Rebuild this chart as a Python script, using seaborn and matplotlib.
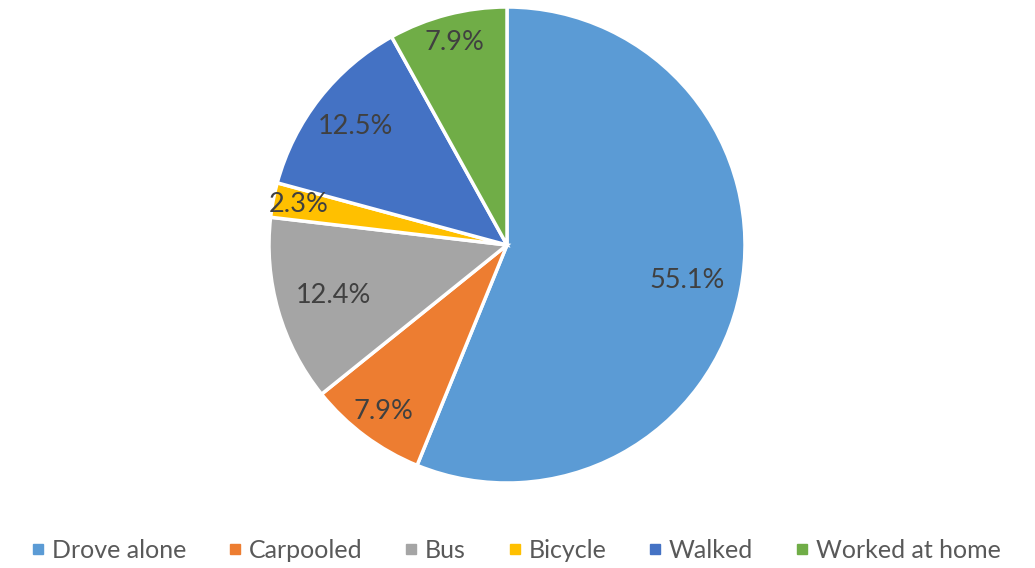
import matplotlib
matplotlib.use("Agg")
import matplotlib.pyplot as plt
import seaborn as sns
import numpy as np
from matplotlib.lines import Line2D

# data
modes = ["Drove alone", "Carpooled", "Bus", "Bicycle", "Walked", "Worked at home"]
shares = [55.1, 7.9, 12.4, 2.3, 12.5, 7.9]
pct_labels = ["55.1%", "7.9%", "12.4%", "2.3%", "12.5%", "7.9%"]
colors = ["#5B9BD5", "#ED7D31", "#A5A5A5", "#FFC000", "#4472C4", "#70AD47"]
label_dist = [0.77, 0.87, 0.76, 0.89, 0.81, 0.88]

sns.set_style("white")
plt.rcParams['font.family'] = ['Lato', 'DejaVu Sans']

fig = plt.figure(figsize=(10.35, 5.68), dpi=100)
# pie centred at ~(507, 245) px with radius ~238 px
cx, cy, r = 507, 245, 238
ax = fig.add_axes([(cx - r) / 1035, (568 - cy - r) / 568, 2 * r / 1035, 2 * r / 568])

wedges, _ = ax.pie(shares, colors=colors, startangle=90, counterclock=False,
                   wedgeprops=dict(edgecolor="white", linewidth=2.5))
ax.set_xlim(-1, 1)
ax.set_ylim(-1, 1)
ax.set_aspect("equal")

for w, txt, d in zip(wedges, pct_labels, label_dist):
    mid = np.deg2rad((w.theta1 + w.theta2) / 2)
    ax.text(d * np.cos(mid), d * np.sin(mid), txt, ha="center", va="center",
            fontsize=19.5, color="#404040")

handles = [Line2D([], [], marker="s", linestyle="none", markersize=6.5,
                  markerfacecolor=c, markeredgecolor=c) for c in colors]
fig.legend(handles, modes, loc="center", bbox_to_anchor=(0.497, 1 - 550 / 568),
           ncol=6, frameon=False, fontsize=18, labelcolor="#595959",
           handletextpad=0.15, columnspacing=1.55, handlelength=0.8)

fig.savefig("out.png", dpi=100)
